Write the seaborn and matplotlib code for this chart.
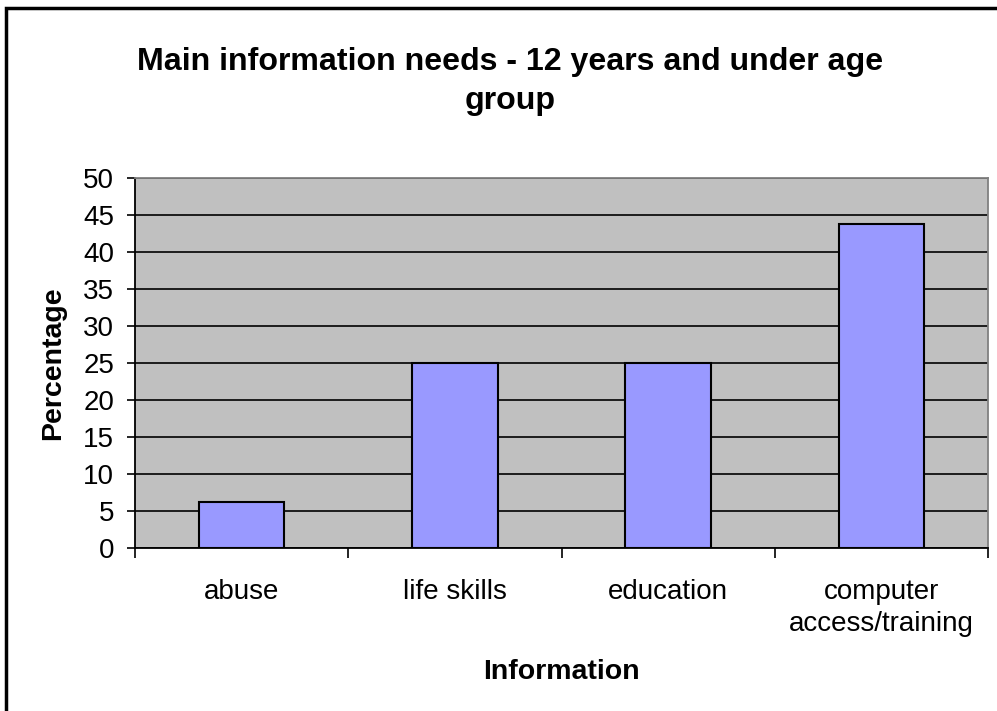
import matplotlib
matplotlib.use("Agg")
import matplotlib.pyplot as plt
from matplotlib.patches import Rectangle
from matplotlib.ticker import FixedLocator
import seaborn as sns
import pandas as pd

categories = ["abuse", "life skills", "education", "computer\naccess/training"]
percentages = [6.25, 25.0, 25.0, 43.75]
y_ticks = [0, 5, 10, 15, 20, 25, 30, 35, 40, 45, 50]

sns.set_theme(style="white")
plt.rcParams["font.family"] = ["Liberation Sans", "DejaVu Sans"]
plt.rcParams["text.color"] = "black"
plt.rcParams["axes.labelcolor"] = "black"

df = pd.DataFrame({"Information": categories, "Percentage": percentages})

fig = plt.figure(figsize=(9.97, 7.11), dpi=100)
fig.patch.set_facecolor("white")
ax = fig.add_axes([0.1354, 0.2293, 0.8556, 0.5203])
ax.set_facecolor("#C0C0C0")

sns.barplot(data=df, x="Information", y="Percentage", color="#9999FF",
            saturation=1, width=0.4, edgecolor="black", linewidth=1.5,
            ax=ax, zorder=3)

ax.set_ylim(0, 50)
ax.set_xlim(-0.5, 3.5)
ax.yaxis.set_major_locator(FixedLocator(y_ticks))
ax.grid(axis="y", color="black", linewidth=1.2, zorder=1)
ax.set_axisbelow(True)

# category separators as small downward ticks
ax.xaxis.set_minor_locator(FixedLocator([-0.5, 0.5, 1.5, 2.5, 3.5]))
ax.tick_params(axis="x", which="major", length=0, pad=22, labelsize=20,
               colors="black")
ax.tick_params(axis="x", which="minor", bottom=True, length=7, width=1.2,
               color="black")
ax.tick_params(axis="y", which="major", left=True, length=6, width=1.2,
               labelsize=20, pad=9, colors="black")
for lbl in ax.get_xticklabels():
    lbl.set_linespacing(1.33)

for side in ("left", "bottom"):
    ax.spines[side].set_color("black")
    ax.spines[side].set_linewidth(1.3)
for side in ("top", "right"):
    ax.spines[side].set_color("#808080")
    ax.spines[side].set_linewidth(1.3)

ax.set_xlabel("Information", fontsize=20.5, fontweight="bold", labelpad=16,
              color="black")
ax.set_ylabel("Percentage", fontsize=20.5, fontweight="bold", labelpad=12,
              color="black")

fig.text(0.5115, 0.934, "Main information needs - 12 years and under age\ngroup",
         ha="center", va="top", fontsize=23.1, fontweight="bold",
         linespacing=1.4, color="black")

# outer chart frame
fig.patches.append(Rectangle((6 / 997, -0.05), 1.2, (711 - 8) / 711 + 0.05,
                             transform=fig.transFigure, fill=False,
                             edgecolor="black", linewidth=2.5))

fig.savefig("out.png", dpi=100)
